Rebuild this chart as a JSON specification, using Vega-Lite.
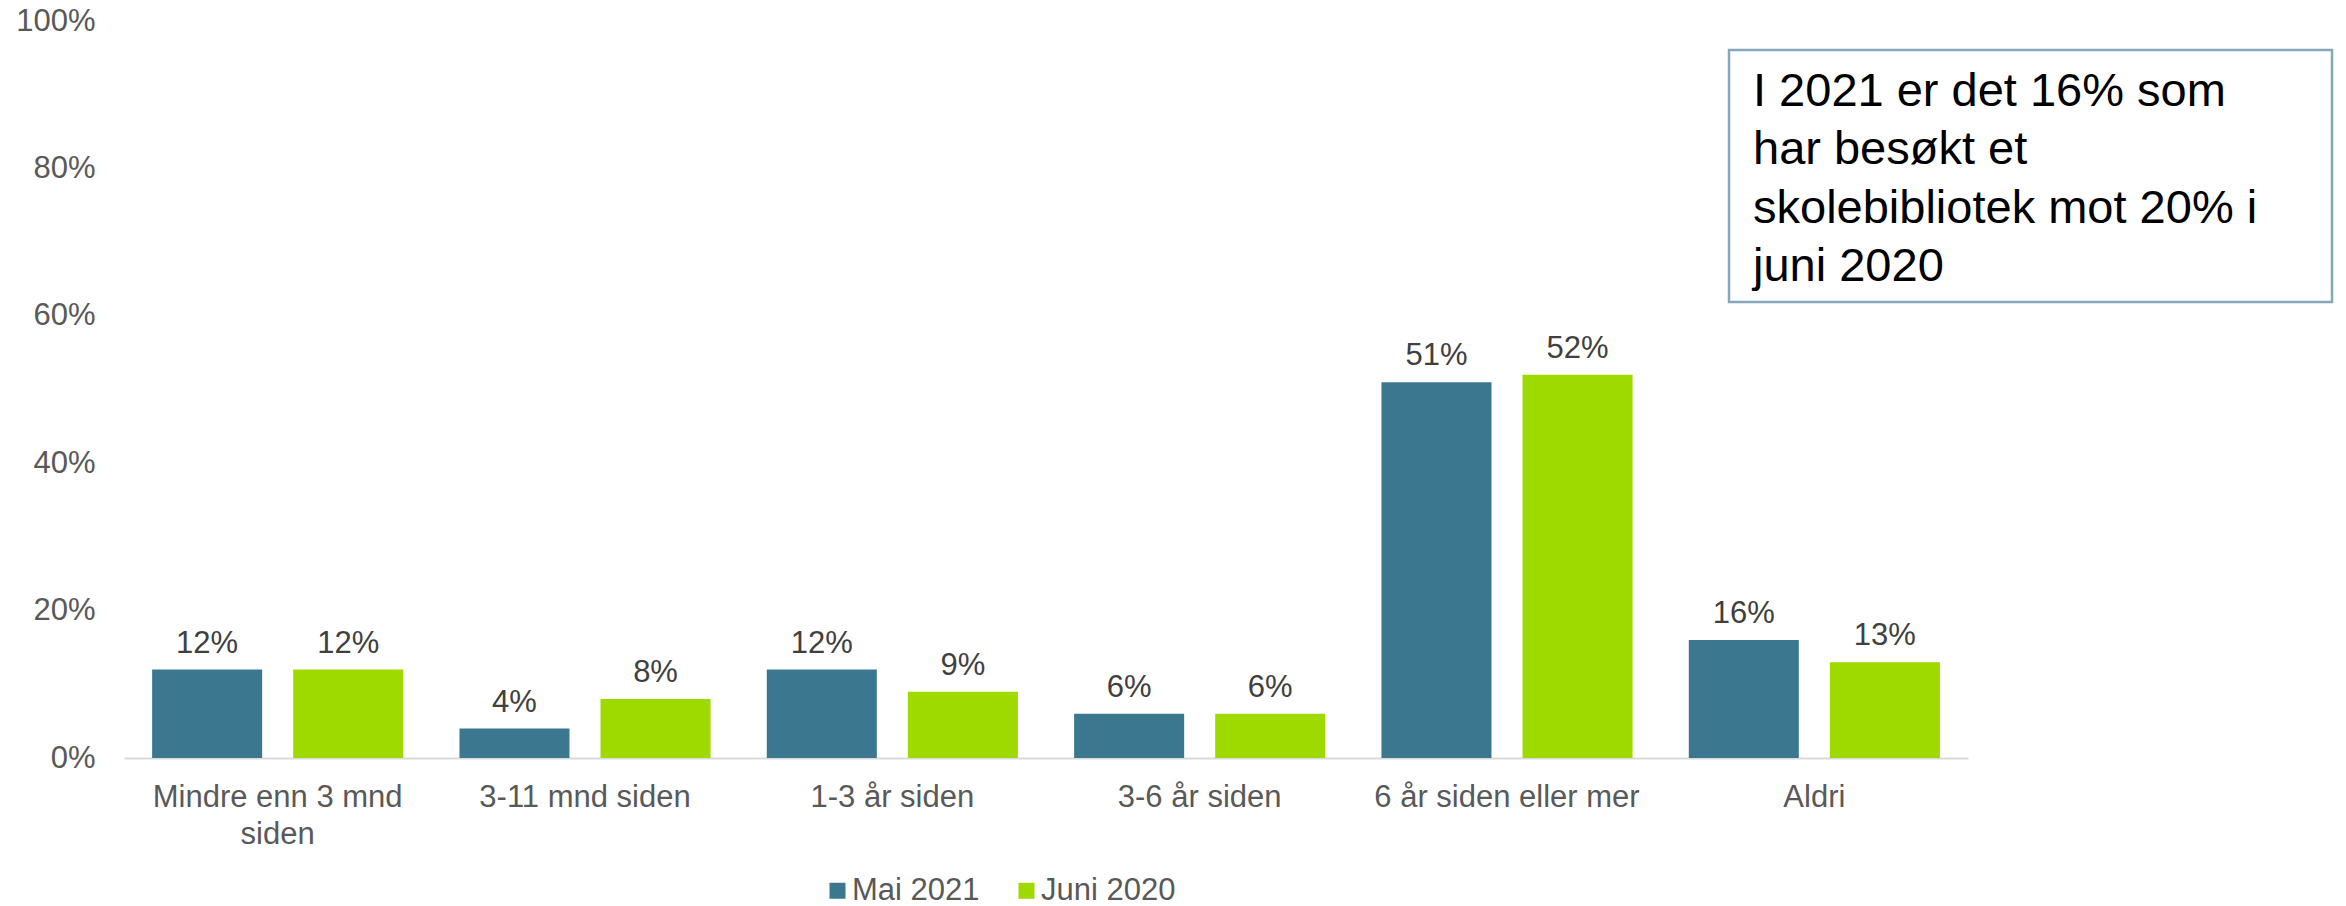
{
  "$schema": "https://vega.github.io/schema/vega-lite/v6.json",
  "width": 1844,
  "height": 737,
  "autosize": {"type": "none"},
  "padding": {"left": 124, "top": 21, "right": 378, "bottom": 148},
  "background": "white",
  "config": {
    "view": {"stroke": null},
    "font": "Liberation Sans",
    "text": {"font": "Liberation Sans"}
  },
  "layer": [
    {
      "data": {
        "values": [
          {"kategori": "Mindre enn 3 mnd siden", "serie": "Mai 2021", "andel": 0.12},
          {"kategori": "Mindre enn 3 mnd siden", "serie": "Juni 2020", "andel": 0.12},
          {"kategori": "3-11 mnd siden", "serie": "Mai 2021", "andel": 0.04},
          {"kategori": "3-11 mnd siden", "serie": "Juni 2020", "andel": 0.08},
          {"kategori": "1-3 år siden", "serie": "Mai 2021", "andel": 0.12},
          {"kategori": "1-3 år siden", "serie": "Juni 2020", "andel": 0.09},
          {"kategori": "3-6 år siden", "serie": "Mai 2021", "andel": 0.06},
          {"kategori": "3-6 år siden", "serie": "Juni 2020", "andel": 0.06},
          {"kategori": "6 år siden eller mer", "serie": "Mai 2021", "andel": 0.51},
          {"kategori": "6 år siden eller mer", "serie": "Juni 2020", "andel": 0.52},
          {"kategori": "Aldri", "serie": "Mai 2021", "andel": 0.16},
          {"kategori": "Aldri", "serie": "Juni 2020", "andel": 0.13}
        ]
      },
      "encoding": {
        "x": {
          "field": "kategori",
          "type": "nominal",
          "sort": ["Mindre enn 3 mnd siden", "3-11 mnd siden", "1-3 år siden", "3-6 år siden", "6 år siden eller mer", "Aldri"],
          "scale": {"paddingInner": 0.183, "paddingOuter": 0.0915},
          "axis": {
            "title": null,
            "labelAngle": 0,
            "domainColor": "#D9D9D9",
            "domainWidth": 2,
            "ticks": false,
            "tickSize": 0,
            "labelFontSize": 31,
            "labelColor": "#595959",
            "labelPadding": 24,
            "labelLineHeight": 37,
            "labelLimit": 400,
            "labelExpr": "datum.label == 'Mindre enn 3 mnd siden' ? ['Mindre enn 3 mnd', 'siden'] : datum.label"
          }
        },
        "xOffset": {
          "field": "serie",
          "type": "nominal",
          "sort": ["Mai 2021", "Juni 2020"],
          "scale": {"paddingInner": 0.22, "paddingOuter": 0}
        },
        "y": {
          "field": "andel",
          "type": "quantitative",
          "scale": {"domain": [0, 1]},
          "axis": {
            "title": null,
            "format": ".0%",
            "values": [0, 0.2, 0.4, 0.6, 0.8, 1],
            "domain": false,
            "ticks": false,
            "tickSize": 0,
            "grid": false,
            "labelFontSize": 31,
            "labelColor": "#595959",
            "labelPadding": 29
          }
        }
      },
      "layer": [
        {
          "mark": {"type": "bar"},
          "encoding": {
            "color": {
              "field": "serie",
              "type": "nominal",
              "scale": {"domain": ["Mai 2021", "Juni 2020"], "range": ["#3B778F", "#9ED900"]},
              "legend": {
                "orient": "none",
                "legendX": 698,
                "legendY": 854,
                "direction": "horizontal",
                "title": null,
                "symbolType": "square",
                "symbolSize": 256,
                "symbolStrokeWidth": 0,
                "labelFontSize": 31,
                "labelColor": "#595959",
                "labelOffset": -1,
                "columnPadding": 31,
                "padding": 0
              }
            }
          }
        },
        {
          "mark": {"type": "text", "baseline": "alphabetic", "dy": -17, "fontSize": 31, "color": "#404040"},
          "encoding": {
            "text": {"field": "andel", "type": "quantitative", "format": ".0%"}
          }
        }
      ]
    },
    {
      "data": {"values": [{"note": "I 2021 er det 16% som\nhar besøkt et\nskolebibliotek mot 20% i\njuni 2020"}]},
      "layer": [
        {
          "mark": {"type": "rect", "fill": "white", "stroke": "#86A9BA", "strokeWidth": 2.5},
          "encoding": {
            "x": {"datum": 0.8704, "type": "quantitative", "scale": {"domain": [0, 1]}, "axis": null},
            "x2": {"datum": 1.1974},
            "y": {"datum": 0.9607, "type": "quantitative"},
            "y2": {"datum": 0.6187}
          }
        },
        {
          "mark": {"type": "text", "align": "left", "baseline": "alphabetic", "fontSize": 47, "lineHeight": 58.5, "lineBreak": "\n", "color": "#000000"},
          "encoding": {
            "x": {"datum": 0.8834, "type": "quantitative", "scale": {"domain": [0, 1]}, "axis": null},
            "y": {"datum": 0.8847, "type": "quantitative"},
            "text": {"field": "note", "type": "nominal"}
          }
        }
      ]
    }
  ],
  "resolve": {"scale": {"x": "independent"}, "axis": {"x": "independent"}}
}
